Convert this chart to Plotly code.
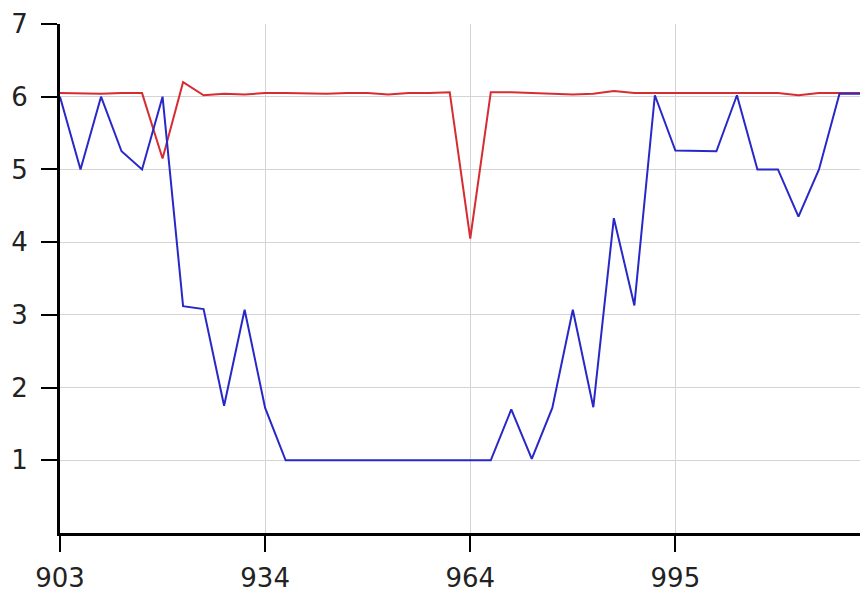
import plotly.graph_objects as go

tick_positions = [0, 10, 20, 30]
tick_labels = ["903", "934", "964", "995"]

red_values = [6.05, 6.04, 6.04, 6.05, 6.05, 5.15, 6.2, 6.02, 6.04, 6.03,
              6.05, 6.05, 6.04, 6.04, 6.05, 6.05, 6.03, 6.05, 6.05, 6.06,
              4.05, 6.06, 6.06, 6.05, 6.03, 6.03, 6.04, 6.08, 6.05, 6.05,
              6.04, 6.05, 6.05, 6.05, 6.05, 6.05, 6.02, 6.05, 6.05, 6.05]

blue_values = [6.0, 5.0, 6.0, 5.25, 5.0, 6.0, 3.12, 3.08, 1.75, 3.07,
               1.72, 1.0, 1.0, 1.0, 1.0, 1.0, 1.0, 1.0, 1.0, 1.0,
               1.0, 1.0, 1.7, 1.02, 1.72, 3.07, 1.73, 4.33, 3.13, 6.02,
               5.26, 5.26, 5.25, 6.02, 5.0, 5.0, 4.35, 5.0, 6.04, 6.04]

x_index = list(range(len(blue_values)))

fig = go.Figure()
fig.add_trace(go.Scatter(x=x_index, y=red_values, mode="lines",
                         line=dict(color="rgb(215,45,50)", width=2),
                         hoverinfo="skip", cliponaxis=False))
fig.add_trace(go.Scatter(x=x_index, y=blue_values, mode="lines",
                         line=dict(color="rgb(40,40,200)", width=2),
                         hoverinfo="skip", cliponaxis=False))

axis_font = dict(family="DejaVu Sans, Liberation Sans, sans-serif", size=26, color="#222222")

fig.update_layout(
    width=862, height=598,
    margin=dict(l=60, r=2, t=24, b=65, autoexpand=False),
    paper_bgcolor="white", plot_bgcolor="white",
    showlegend=False,
    xaxis=dict(
        range=[0, 39], automargin=False,
        tickmode="array", tickvals=tick_positions, ticktext=tick_labels,
        showgrid=True, gridcolor="#d4d4d4", gridwidth=1,
        showline=True, linecolor="black", linewidth=3,
        ticks="outside", ticklen=16, tickwidth=1.5, tickcolor="black",
        tickfont=axis_font, zeroline=False,
        ticklabelstandoff=4,
    ),
    yaxis=dict(
        range=[0, 7], automargin=False,
        tickmode="array", tickvals=[1, 2, 3, 4, 5, 6, 7],
        ticktext=["1", "2", "3", "4", "5", "6", "7"],
        showgrid=True, gridcolor="#d4d4d4", gridwidth=1,
        showline=True, linecolor="black", linewidth=3,
        ticks="outside", ticklen=16, tickwidth=1.5, tickcolor="black",
        tickfont=axis_font, zeroline=False,
        ticklabelstandoff=8,
    ),
)

# Remove the default page margin so the 862x598 figure fills the window exactly.
fig.write_html(
    "out.html",
    config={"displayModeBar": False},
    post_script="document.documentElement.style.overflow='hidden';"
                "document.body.style.margin='0';document.body.style.overflow='hidden';",
)
